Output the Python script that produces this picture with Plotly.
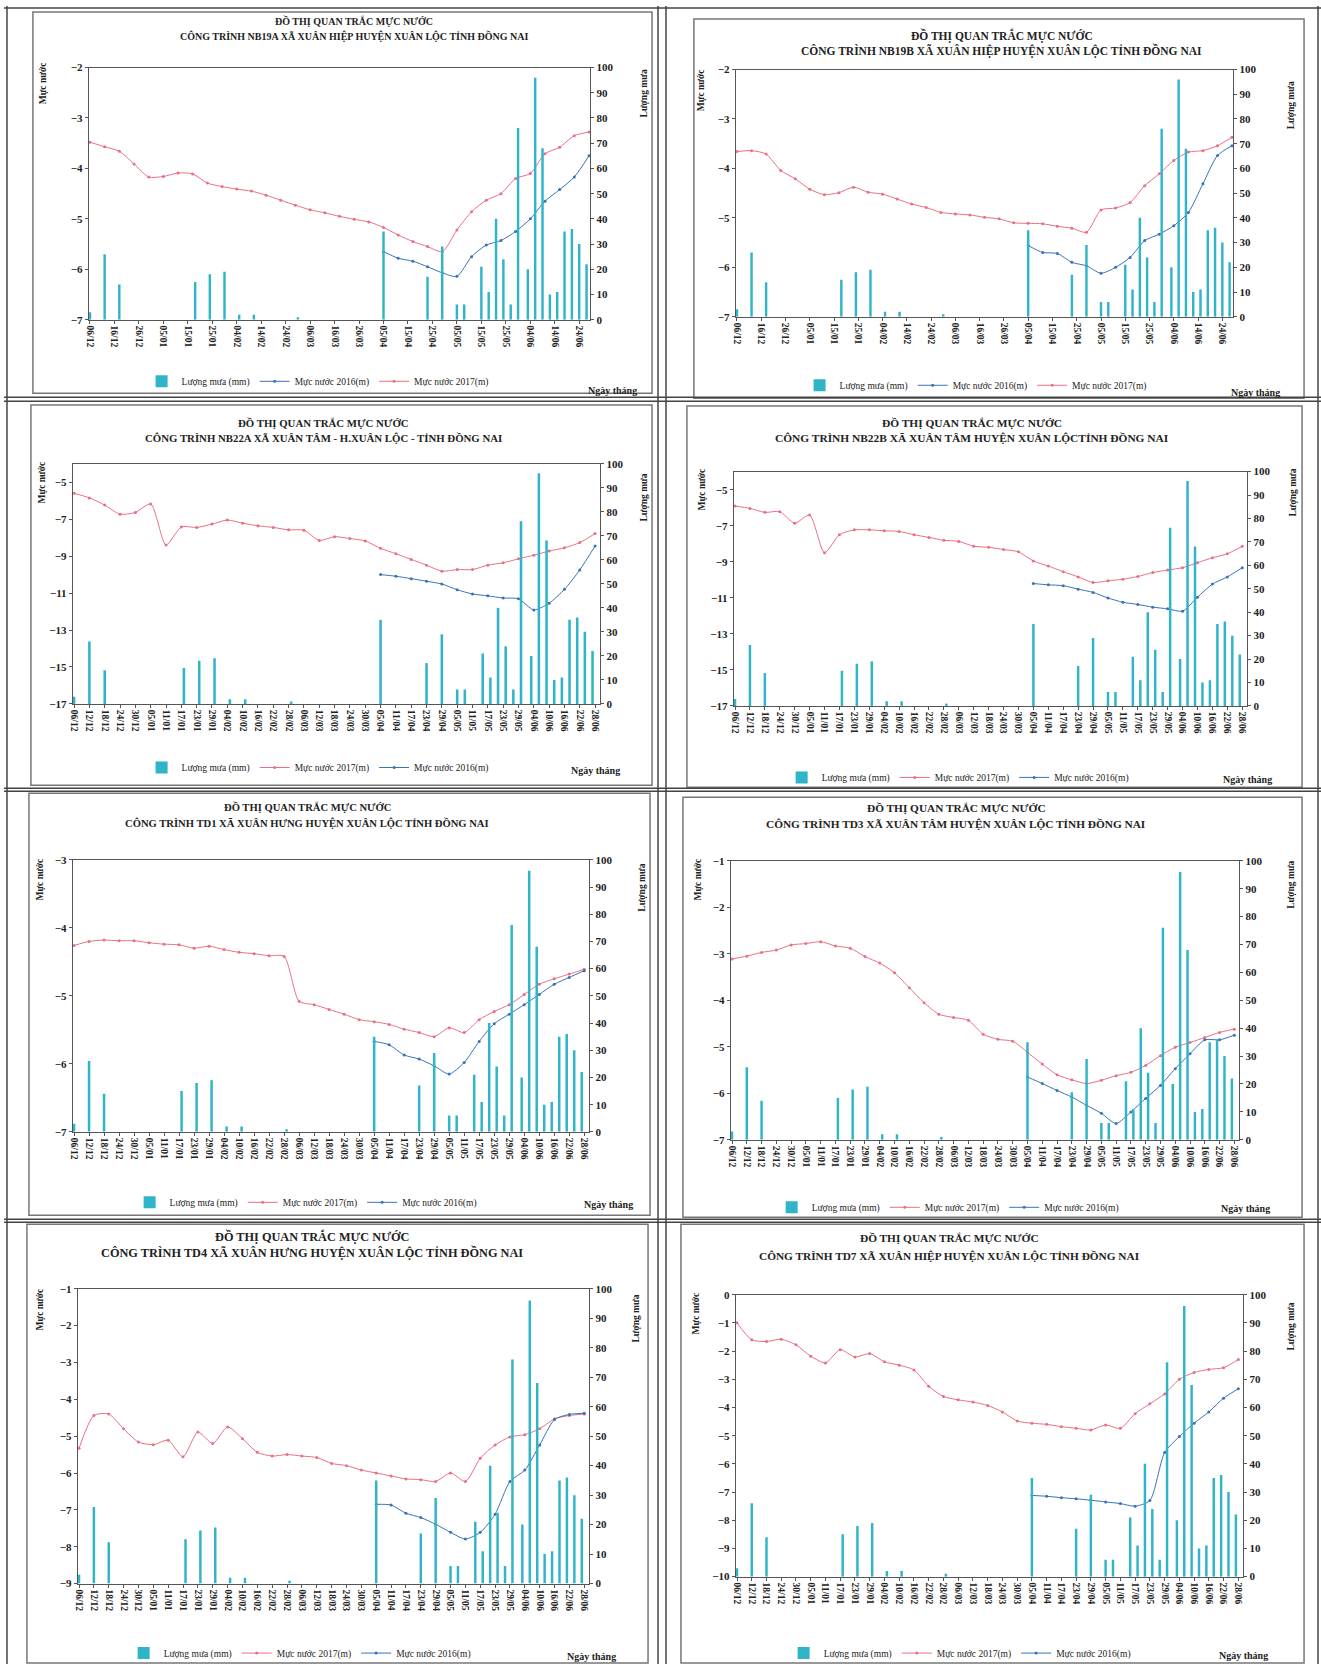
import plotly.graph_objects as go

W, H = 1321, 1670
SERIF = "Liberation Serif, Times New Roman, serif"

# ---------------- DATA ----------------
dates_rain = ["2016-12-06", "2016-12-12", "2016-12-18", "2017-01-18", "2017-01-24", "2017-01-30",
              "2017-02-05", "2017-02-11", "2017-03-01", "2017-04-05", "2017-04-23", "2017-04-29",
              "2017-05-05", "2017-05-08", "2017-05-15", "2017-05-18", "2017-05-21", "2017-05-24",
              "2017-05-27", "2017-05-30", "2017-06-03", "2017-06-06", "2017-06-09", "2017-06-12",
              "2017-06-15", "2017-06-18", "2017-06-21", "2017-06-24", "2017-06-27"]
rain_mm = [3, 26, 14, 15, 18, 19, 2, 2, 1, 35, 17, 29, 6, 6, 21, 11, 40, 24, 6, 76, 20, 96, 68,
           10, 11, 35, 36, 30, 22]

dates_2017 = ["2016-12-06", "2016-12-12", "2016-12-18", "2016-12-24", "2016-12-30", "2017-01-05",
              "2017-01-11", "2017-01-17", "2017-01-23", "2017-01-29", "2017-02-04", "2017-02-10",
              "2017-02-16", "2017-02-22", "2017-02-28", "2017-03-06", "2017-03-12", "2017-03-18",
              "2017-03-24", "2017-03-30", "2017-04-05", "2017-04-11", "2017-04-17", "2017-04-23",
              "2017-04-29", "2017-05-05", "2017-05-11", "2017-05-17", "2017-05-23", "2017-05-29",
              "2017-06-04", "2017-06-10", "2017-06-16", "2017-06-22", "2017-06-28"]
dates_2016 = ["2017-04-05", "2017-04-11", "2017-04-17", "2017-04-23", "2017-04-29", "2017-05-05",
              "2017-05-11", "2017-05-17", "2017-05-23", "2017-05-29", "2017-06-04", "2017-06-10",
              "2017-06-16", "2017-06-22", "2017-06-28"]

nb19a_2017 = [-3.48, -3.57, -3.66, -3.91, -4.17, -4.16, -4.09, -4.11, -4.29, -4.36, -4.41, -4.45,
              -4.53, -4.63, -4.73, -4.82, -4.88, -4.95, -5.01, -5.06, -5.17, -5.32, -5.45, -5.55,
              -5.65, -5.22, -4.86, -4.63, -4.50, -4.20, -4.10, -3.71, -3.58, -3.35, -3.28]
nb19a_2016 = [-5.65, -5.78, -5.84, -5.95, -6.07, -6.14, -5.75, -5.52, -5.43, -5.25, -5.00, -4.65,
              -4.42, -4.17, -3.75]

nb19b_2017 = [-3.66, -3.64, -3.71, -4.04, -4.21, -4.42, -4.53, -4.49, -4.38, -4.48, -4.52, -4.62,
              -4.72, -4.79, -4.89, -4.92, -4.94, -4.99, -5.02, -5.10, -5.11, -5.12, -5.17, -5.21,
              -5.29, -4.84, -4.80, -4.69, -4.35, -4.11, -3.84, -3.67, -3.64, -3.54, -3.37]
nb19b_2016 = [-5.56, -5.70, -5.72, -5.90, -5.97, -6.12, -6.00, -5.80, -5.46, -5.33, -5.16, -4.89,
              -4.31, -3.74, -3.54]

nb22a_2017 = [-5.60, -5.85, -6.24, -6.73, -6.64, -6.18, -8.40, -7.42, -7.45, -7.27, -7.05, -7.22,
              -7.36, -7.45, -7.58, -7.60, -8.15, -7.95, -8.05, -8.18, -8.58, -8.87, -9.18, -9.49,
              -9.82, -9.73, -9.73, -9.49, -9.36, -9.15, -8.95, -8.73, -8.55, -8.27, -7.78]
nb22a_2016 = [-10.00, -10.09, -10.22, -10.36, -10.51, -10.82, -11.05, -11.15, -11.27, -11.31,
              -11.91, -11.55, -10.80, -9.75, -8.45]

nb22b_2017 = [-5.91, -6.04, -6.26, -6.22, -6.86, -6.41, -8.50, -7.50, -7.23, -7.23, -7.28, -7.32,
              -7.50, -7.65, -7.81, -7.87, -8.14, -8.20, -8.32, -8.45, -8.96, -9.24, -9.55, -9.84,
              -10.15, -10.06, -9.97, -9.82, -9.60, -9.46, -9.33, -9.05, -8.78, -8.56, -8.14]
nb22b_2016 = [-10.21, -10.28, -10.33, -10.52, -10.70, -11.01, -11.25, -11.37, -11.52, -11.61,
              -11.74, -10.97, -10.24, -9.84, -9.33]

td1_2017 = [-4.26, -4.20, -4.18, -4.19, -4.19, -4.22, -4.24, -4.25, -4.30, -4.27, -4.32, -4.36,
            -4.38, -4.41, -4.42, -5.08, -5.13, -5.20, -5.27, -5.35, -5.38, -5.42, -5.49, -5.54,
            -5.60, -5.47, -5.54, -5.35, -5.23, -5.13, -4.98, -4.83, -4.75, -4.68, -4.61]
td1_2016 = [-5.67, -5.72, -5.87, -5.93, -6.03, -6.15, -5.98, -5.67, -5.41, -5.27, -5.13, -4.98,
            -4.83, -4.73, -4.63]

td3_2017 = [-3.11, -3.05, -2.97, -2.92, -2.81, -2.78, -2.74, -2.83, -2.88, -3.06, -3.20, -3.41,
            -3.73, -4.05, -4.30, -4.37, -4.43, -4.73, -4.84, -4.88, -5.12, -5.37, -5.60, -5.71,
            -5.79, -5.72, -5.62, -5.55, -5.40, -5.19, -5.01, -4.91, -4.80, -4.69, -4.62]
td3_2016 = [-5.65, -5.79, -5.94, -6.08, -6.26, -6.43, -6.65, -6.40, -6.11, -5.83, -5.47, -5.15,
            -4.85, -4.85, -4.75]

td4_2017 = [-5.33, -4.44, -4.40, -4.80, -5.16, -5.23, -5.11, -5.56, -4.89, -5.20, -4.75, -5.07,
            -5.44, -5.54, -5.50, -5.54, -5.58, -5.74, -5.80, -5.92, -6.00, -6.08, -6.16, -6.18,
            -6.23, -6.00, -6.23, -5.60, -5.24, -5.02, -4.96, -4.80, -4.53, -4.44, -4.40]
td4_2016 = [-6.85, -6.87, -7.09, -7.21, -7.39, -7.61, -7.79, -7.61, -7.12, -6.23, -5.92, -5.24,
            -4.55, -4.41, -4.38]

td7_2017 = [-1.00, -1.60, -1.66, -1.58, -1.78, -2.18, -2.42, -1.95, -2.21, -2.09, -2.38, -2.50,
            -2.67, -3.25, -3.61, -3.73, -3.81, -3.93, -4.16, -4.48, -4.56, -4.60, -4.68, -4.74,
            -4.80, -4.62, -4.74, -4.22, -3.87, -3.52, -3.00, -2.76, -2.65, -2.59, -2.30]
td7_2016 = [-7.12, -7.15, -7.20, -7.24, -7.29, -7.35, -7.41, -7.50, -7.30, -5.60, -5.03, -4.56,
            -4.16, -3.67, -3.34]

title_line1 = "ĐỒ THỊ QUAN TRẮC MỰC NƯỚC"
titles = [
    "CÔNG TRÌNH NB19A XÃ XUÂN HIỆP HUYỆN XUÂN LỘC TỈNH ĐỒNG NAI",
    "CÔNG TRÌNH NB19B XÃ XUÂN HIỆP HUYỆN XUÂN LỘC TỈNH ĐỒNG NAI",
    "CÔNG TRÌNH NB22A XÃ XUÂN TÂM - H.XUÂN LỘC - TỈNH ĐỒNG NAI",
    "CÔNG TRÌNH NB22B XÃ XUÂN TÂM HUYỆN XUÂN LỘCTỈNH ĐỒNG NAI",
    "CÔNG TRÌNH TD1 XÃ XUÂN HƯNG HUYỆN XUÂN LỘC TỈNH ĐỒNG NAI",
    "CÔNG TRÌNH TD3 XÃ XUÂN TÂM HUYỆN XUÂN LỘC TỈNH ĐỒNG NAI",
    "CÔNG TRÌNH TD4 XÃ XUÂN HƯNG HUYỆN XUÂN LỘC TỈNH ĐỒNG NAI",
    "CÔNG TRÌNH TD7 XÃ XUÂN HIỆP HUYỆN XUÂN LỘC TỈNH ĐỒNG NAI",
]
series_2017 = [nb19a_2017, nb19b_2017, nb22a_2017, nb22b_2017, td1_2017, td3_2017, td4_2017, td7_2017]
series_2016 = [nb19a_2016, nb19b_2016, nb22a_2016, nb22b_2016, td1_2016, td3_2016, td4_2016, td7_2016]
level_ranges = [(-7, -2), (-7, -2), (-17, -4), (-17, -4), (-7, -3), (-7, -1), (-9, -1), (-10, 0)]
level_dticks = [1, 1, 2, 2, 1, 1, 1, 1]
date_dticks = [10, 10, 6, 6, 6, 6, 6, 6]
x_ends = ["2017-06-28 12:00", "2017-06-28 12:00"] + ["2017-06-30"] * 6

name_rain = "Lượng mưa (mm)"
name_2016 = "Mực nước 2016(m)"
name_2017 = "Mực nước 2017(m)"

# ---------------- LAYOUT (pixels) ----------------
geo = [
    dict(plot=(85, 62, 588, 316), box=(29, 6, 650, 390), tx=351, ty=(15, 30), fs=10,
         lt=(40, 78), rt=(642, 88), leg=(138, 378), ng=(610, 387)),
    dict(plot=(734, 64, 1233, 313), box=(692, 13, 1304, 395), tx=1001, ty=(30, 45), fs=11.5,
         lt=(700, 85), rt=(1291, 100), leg=(798, 382), ng=(1255, 389)),
    dict(plot=(69, 461, 598, 703), box=(27, 402, 650, 785), tx=320, ty=(420, 435), fs=10.8,
         lt=(38, 480), rt=(642, 495), leg=(138, 767), ng=(593, 770)),
    dict(plot=(732, 469, 1247, 705), box=(685, 403, 1302, 787), tx=971, ty=(420, 435), fs=11.4,
         lt=(700, 487), rt=(1293, 490), leg=(780, 777), ng=(1247, 779)),
    dict(plot=(69, 860, 587, 1134), box=(25, 793, 648, 1218), tx=304, ty=(807, 823), fs=10.6,
         lt=(36, 880), rt=(640, 888), leg=(126, 1205), ng=(606, 1207)),
    dict(plot=(729, 861, 1239, 1142), box=(681, 797, 1302, 1220), tx=955, ty=(808, 824), fs=11.3,
         lt=(696, 880), rt=(1291, 885), leg=(770, 1210), ng=(1245, 1211)),
    dict(plot=(74, 1292, 587, 1589), box=(23, 1227, 646, 1669), tx=309, ty=(1239, 1256), fs=12.3,
         lt=(36, 1313), rt=(633, 1322), leg=(120, 1659), ng=(589, 1662)),
    dict(plot=(734, 1298, 1243, 1582), box=(679, 1227, 1304, 1669), tx=948, ty=(1241, 1259), fs=11.3,
         lt=(694, 1317), rt=(1291, 1330), leg=(782, 1659), ng=(1243, 1661)),
]

C_RAIN = "#2fb4c8"
C_2017 = "#ea6f84"
C_2016 = "#3a72b8"
AX = "#555555"


def px(x):
    return x / W


def py(y):
    return 1 - y / H


fig = go.Figure()
layout = dict(width=W, height=H, margin=dict(l=0, r=0, t=0, b=0),
              paper_bgcolor="white", plot_bgcolor="white", showlegend=True,
              shapes=[], annotations=[], barmode="overlay")

DAY = 86400000

for i in range(1, 9):
    g = geo[i - 1]
    xid = "x" if i == 1 else f"x{i}"
    xa = "xaxis" if i == 1 else f"xaxis{i}"
    yl, yr = 2 * i - 1, 2 * i
    ylid = "y" if yl == 1 else f"y{yl}"
    yla = "yaxis" if yl == 1 else f"yaxis{yl}"
    yrid, yra = f"y{yr}", f"yaxis{yr}"
    leg = "legend" if i == 1 else f"legend{i}"
    L, T, R, B = g["plot"]
    lo, hi = level_ranges[i - 1]

    layout[xa] = dict(domain=[px(L), px(R)], anchor=ylid, type="date",
                      range=["2016-12-05 12:00", x_ends[i - 1]],
                      tick0="2016-12-06", dtick=date_dticks[i - 1] * DAY, tickformat="%d/%m",
                      tickangle=90, tickfont=dict(family=SERIF, size=9.5, color="#222", weight="bold"),
                      showline=True, linecolor=AX, linewidth=1, mirror=True,
                      ticks="outside", ticklen=3, tickcolor=AX, showgrid=False, zeroline=False)
    layout[yla] = dict(domain=[py(B), py(T)], anchor=xid, range=[lo, hi], tick0=lo,
                       dtick=level_dticks[i - 1],
                       tickfont=dict(family=SERIF, size=11, color="#222", weight="bold"),
                       showline=True, linecolor=AX, linewidth=1, ticks="outside", ticklen=3,
                       tickcolor=AX, showgrid=False, zeroline=False)
    layout[yra] = dict(overlaying=ylid, side="right", anchor=xid, range=[0, 100], tick0=0, dtick=10,
                       tickfont=dict(family=SERIF, size=11, color="#222", weight="bold"),
                       showline=True, linecolor=AX, linewidth=1, ticks="outside", ticklen=3,
                       tickcolor=AX, showgrid=False, zeroline=False)
    layout[leg] = dict(orientation="h", x=px(g["leg"][0]), y=py(g["leg"][1]),
                       xanchor="left", yanchor="middle", traceorder="normal",
                       font=dict(family=SERIF, size=9.5, color="#222"),
                       bgcolor="rgba(0,0,0,0)", itemwidth=30)

    bar = go.Bar(x=dates_rain, y=rain_mm, name=name_rain, xaxis=xid, yaxis=yrid, legend=leg,
                 marker=dict(color=C_RAIN, line=dict(width=0)), width=1.0 * DAY)
    l17 = go.Scatter(x=dates_2017, y=series_2017[i - 1], name=name_2017, xaxis=xid, yaxis=ylid,
                     legend=leg, mode="lines+markers",
                     line=dict(color=C_2017, width=1, shape="spline", smoothing=0.7),
                     marker=dict(color=C_2017, size=3))
    l16 = go.Scatter(x=dates_2016, y=series_2016[i - 1], name=name_2016, xaxis=xid, yaxis=ylid,
                     legend=leg, mode="lines+markers",
                     line=dict(color=C_2016, width=1, shape="spline", smoothing=0.7),
                     marker=dict(color=C_2016, size=3))
    if i <= 2:
        fig.add_trace(bar); fig.add_trace(l16); fig.add_trace(l17)
    else:
        fig.add_trace(bar); fig.add_trace(l17); fig.add_trace(l16)

    bl, bt, br, bb = g["box"]
    layout["shapes"].append(dict(type="rect", xref="paper", yref="paper",
                                 x0=px(bl), x1=px(br), y0=py(bb), y1=py(bt),
                                 line=dict(color="#777777", width=1.5)))
    layout["annotations"] += [
        dict(text=f"<b>{title_line1}</b>", x=px(g["tx"]), y=py(g["ty"][0]), xref="paper", yref="paper",
             showarrow=False, xanchor="center", yanchor="middle",
             font=dict(family=SERIF, size=g["fs"], color="#222")),
        dict(text=f"<b>{titles[i - 1]}</b>", x=px(g["tx"]), y=py(g["ty"][1]), xref="paper", yref="paper",
             showarrow=False, xanchor="center", yanchor="middle",
             font=dict(family=SERIF, size=g["fs"], color="#222")),
        dict(text="<b>Mực nước</b>", x=px(g["lt"][0]), y=py(g["lt"][1]), xref="paper", yref="paper",
             showarrow=False, textangle=-90, xanchor="center", yanchor="middle",
             font=dict(family=SERIF, size=9.5, color="#222")),
        dict(text="<b>Lượng mưa</b>", x=px(g["rt"][0]), y=py(g["rt"][1]), xref="paper", yref="paper",
             showarrow=False, textangle=-90, xanchor="center", yanchor="middle",
             font=dict(family=SERIF, size=9.5, color="#222")),
        dict(text="<b>Ngày tháng</b>", x=px(g["ng"][0]), y=py(g["ng"][1]), xref="paper", yref="paper",
             showarrow=False, xanchor="center", yanchor="middle",
             font=dict(family=SERIF, size=10, color="#222")),
    ]

# scanned table frame lines (double rules between cells)
frame = [(3, 0, 3, H), (1318, 0, 1318, H), (0, 2, W, 2),
         (656, 0, 656, H), (664, 0, 664, H),
         (0, 394, W, 394), (0, 398, W, 398),
         (0, 788, W, 788), (0, 791, W, 791),
         (0, 1222, W, 1222), (0, 1225, W, 1225)]
for x0, y0, x1, y1 in frame:
    layout["shapes"].append(dict(type="line", xref="paper", yref="paper",
                                 x0=px(x0), x1=px(x1), y0=py(y0), y1=py(y1),
                                 line=dict(color="#444444", width=1.5)))

fig.update_layout(**layout)
fig.write_html("out.html", config={"displayModeBar": False},
               post_script="document.body.style.margin='0';document.body.style.overflow='hidden';")
